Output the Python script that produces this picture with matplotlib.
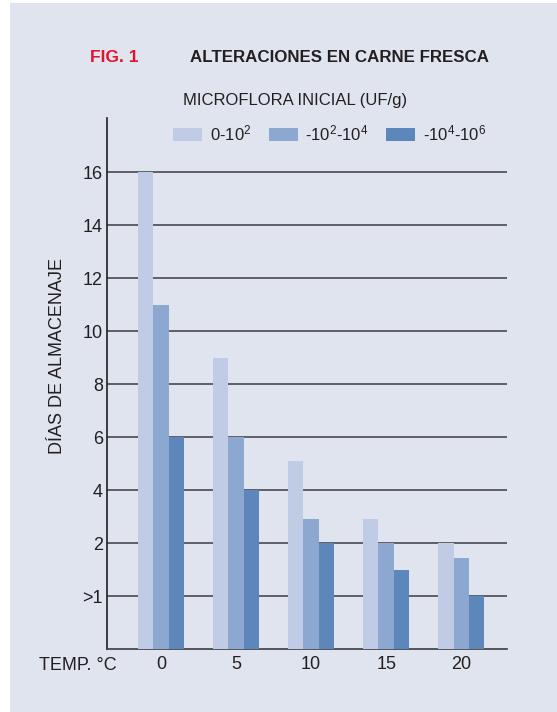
import matplotlib.pyplot as plt
import matplotlib.patches as mpatches
import numpy as np

# Font: Arial-like sans with DejaVu fallback
plt.rcParams['font.family'] = ['Liberation Sans', 'DejaVu Sans']
plt.rcParams['mathtext.fontset'] = 'custom'
plt.rcParams['mathtext.rm'] = 'Liberation Sans'
plt.rcParams['mathtext.it'] = 'Liberation Sans'

# Storage days by temperature and initial microflora load
temps = ['0', '5', '10', '15', '20']
series_labels = ['0-10$^2$', '-10$^2$-10$^4$', '-10$^4$-10$^6$']
dias_low = [16, 9, 5.1, 2.9, 2]
dias_mid = [11, 6, 2.9, 2, 1.45]
dias_high = [6, 4, 2, 1, 0]   # 0 here means the ">1" level

ytick_vals = [0, 2, 4, 6, 8, 10, 12, 14, 16]
ytick_labels = ['>1', '2', '4', '6', '8', '10', '12', '14', '16']

colors = ['#c0cce5', '#8da8d0', '#5d87bb']
bg = '#dfe4ef'
txt = '#231f20'
base = -2  # bottom of the axis sits one step below ">1"

fig = plt.figure(figsize=(5.57, 7.12), dpi=100)
fig.patch.set_facecolor('white')
fig.patches.append(mpatches.Rectangle((10 / 557, 0), 1 - 10 / 557, 1 - 3 / 712,
                                      transform=fig.transFigure, facecolor=bg,
                                      edgecolor='none', zorder=-5))

ax = fig.add_axes([107 / 557, 1 - 649 / 712, 400 / 557, (649 - 118) / 712])
ax.set_facecolor(bg)

x = np.arange(len(temps))
w = 0.205
handles = []
for k, vals in enumerate([dias_low, dias_mid, dias_high]):
    v = np.array(vals)
    b = ax.bar(x + (k - 1) * w, v - base, bottom=base, width=w, color=colors[k],
               zorder=3, label=series_labels[k])
    handles.append(b)

ax.set_xlim(-0.72, 4.61)
ax.set_ylim(base, 18.04)
ax.set_yticks(ytick_vals)
ax.set_yticklabels(ytick_labels, fontsize=13, color=txt)
ax.set_xticks(x)
ax.set_xticklabels(temps, fontsize=13, color=txt)
ax.tick_params(axis='both', length=0)
ax.tick_params(axis='y', pad=3)
ax.tick_params(axis='x', pad=5)

for v in ytick_vals:
    ax.axhline(v, color='#3c3c40', lw=1.1, zorder=1)

for s in ['top', 'right']:
    ax.spines[s].set_visible(False)
ax.spines['left'].set_color(txt)
ax.spines['bottom'].set_color('#3c3c40')
ax.spines['left'].set_linewidth(1.2)
ax.spines['bottom'].set_linewidth(1.2)

# Titles
fig.text(90 / 557, 1 - 57 / 712, 'FIG. 1', color='#e2142c', fontsize=12.5,
         fontweight='bold', va='center', ha='left')
fig.text(190 / 557, 1 - 57 / 712, 'ALTERACIONES EN CARNE FRESCA', color=txt,
         fontsize=12.2, fontweight='bold', va='center', ha='left')
fig.text(183 / 557, 1 - 100 / 712, 'MICROFLORA INICIAL (UF/g)', color=txt,
         fontsize=12, va='center', ha='left')

ax.legend(handles=handles, labels=series_labels, loc='center left',
          bbox_to_anchor=(158 / 557, 1 - 133 / 712), bbox_transform=fig.transFigure,
          ncol=3, frameon=False, fontsize=12, handlelength=1.75, handleheight=0.85,
          handletextpad=0.45, columnspacing=1.05, labelcolor=txt)

fig.text(58 / 557, 1 - 356 / 712, 'DÍAS DE ALMACENAJE', rotation=90, fontsize=13,
         color=txt, va='center', ha='center')
fig.text(117 / 557, 1 - 666 / 712, 'TEMP. °C', fontsize=13, color=txt,
         va='center', ha='right')

fig.savefig('out.png', dpi=100, facecolor='white')
